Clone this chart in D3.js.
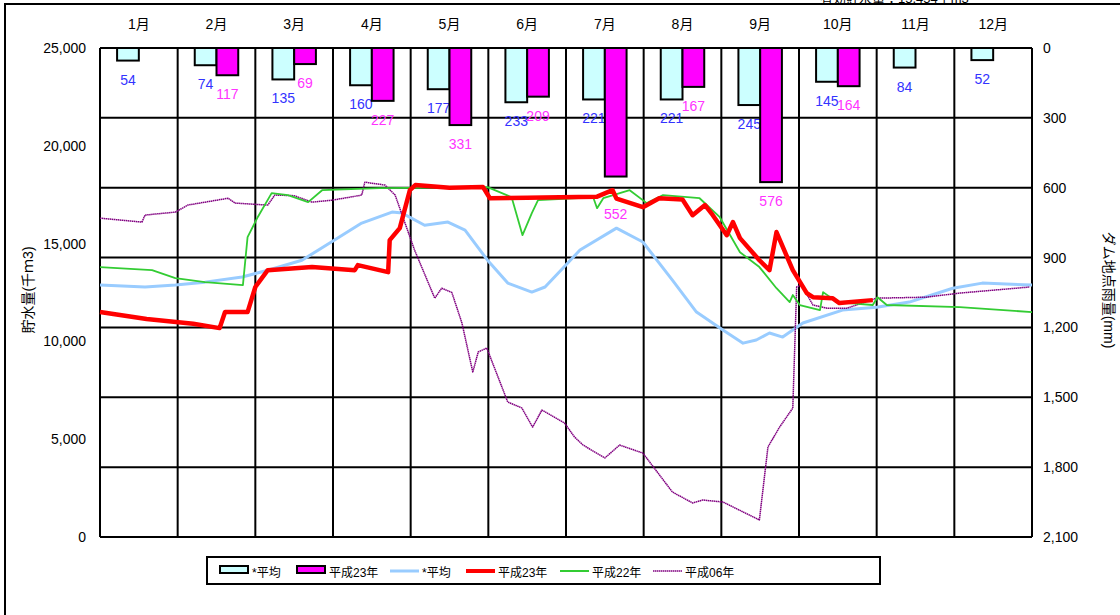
<!DOCTYPE html>
<html><head><meta charset="utf-8">
<script src="https://cdn.jsdelivr.net/npm/d3@7"></script>
<style>
body{margin:0;background:#fff;}
text{font-family:"Liberation Sans",Arial,"Noto Sans CJK JP",sans-serif;}
</style></head><body>
<script>
// months and monthly rainfall (mm)
var months = ["1月","2月","3月","4月","5月","6月","7月","8月","9月","10月","11月","12月"];
var rainAvg = [54,74,135,160,177,233,221,221,245,145,84,52];
var rain2011 = [null,117,69,227,331,209,552,167,576,164,null,null];

// storage lines: [month position, 千m3]
var storeAvg = [[0,12880],[0.58,12780],[0.97,12880],[1.35,13030],[1.83,13290],[2.16,13640],[2.6,14150],
  [3.02,15180],[3.37,16050],[3.76,16610],[3.89,16560],[4.18,15940],[4.48,16100],[4.7,15690],[4.99,14150],
  [5.25,12980],[5.56,12520],[5.73,12780],[6.02,14000],[6.18,14670],[6.65,15790],[6.99,15080],[7.37,13130],
  [7.68,11500],[8.02,10580],[8.28,9910],[8.45,10070],[8.62,10430],[8.79,10220],[9.05,10940],[9.56,11600],
  [10.0,11750],[10.42,12010],[10.98,12720],[11.36,12980],[12,12880]];
var store2011 = [[0,11500],[0.6,11150],[1.2,10900],[1.54,10680],[1.61,11500],[1.9,11500],[2.0,12780],
  [2.16,13640],[2.73,13800],[3.28,13640],[3.32,13900],[3.71,13540],[3.73,15180],[3.86,15790],[3.99,17730],
  [4.06,17990],[4.5,17850],[4.93,17900],[5.02,17320],[5.5,17350],[5.92,17370],[6.4,17400],[6.6,17730],
  [6.65,17300],[6.99,16860],[7.2,17320],[7.5,17250],[7.63,16450],[7.79,16970],[7.89,16450],[8.07,15430],
  [8.15,16100],[8.24,15280],[8.49,14150],[8.62,13640],[8.71,15590],[8.92,13640],[9.1,12470],[9.18,12260],
  [9.43,12210],[9.52,11960],[9.95,12110]];
var store2010 = [[0,13800],[0.67,13640],[0.97,13240],[1.35,13030],[1.84,12880],[1.9,15330],[2.03,16350],
  [2.21,17580],[2.42,17480],[2.68,17120],[2.86,17730],[3.6,17840],[4.99,17890],[5.3,17370],[5.44,15430],
  [5.56,16560],[5.64,17220],[6.35,17370],[6.4,16810],[6.48,17320],[6.82,17730],[7.04,17070],[7.25,17480],
  [7.72,17320],[7.98,16350],[8.24,14560],[8.49,13800],[8.71,12720],[8.88,12010],[8.92,12370],[9.01,11860],
  [9.27,11600],[9.31,12520],[9.49,12010],[9.95,11860],[10.01,12260],[10.13,11860],[11.07,11750],[12,11500]];
var store1994 = [[0,16300],[0.54,16100],[0.58,16460],[0.97,16610],[1.13,16970],[1.65,17320],[1.74,17070],
  [2.16,16970],[2.25,17480],[2.5,17450],[2.73,17120],[2.99,17220],[3.37,17480],[3.41,18140],[3.67,17990],
  [3.8,17480],[4.05,14670],[4.31,12210],[4.4,12720],[4.53,12500],[4.66,10940],[4.8,8430],[4.87,9460],
  [4.98,9660],[5.25,6900],[5.43,6600],[5.57,5620],[5.69,6490],[5.98,5830],[6.11,5110],[6.22,4700],
  [6.5,4040],[6.69,4700],[6.99,4290],[7.37,2300],[7.63,1740],[7.76,1890],[8.02,1790],[8.49,870],[8.6,4600],
  [8.75,5620],[8.92,6590],[8.97,12780],[9.03,12880],[9.18,11860],[9.36,11700],[9.62,11700],[10.0,12210],
  [10.64,12260],[11.07,12470],[11.97,12780]];

var leftTicks = [0,5000,10000,15000,20000,25000];
var rightTicks = [0,300,600,900,1200,1500,1800,2100];

var W = 1120, H = 615;
var x0 = 100, x1 = 1032, y0 = 48, y1 = 537;

var svg = d3.select("body").append("svg").attr("width", W).attr("height", H);

// outer frame (runs past the right and bottom edges)
svg.append("rect").attr("x", 5).attr("y", 4).attr("width", W + 10).attr("height", H + 10)
  .attr("fill", "none").attr("stroke", "#000").attr("stroke-width", 2);
svg.append("text").attr("x", 820).attr("y", 3).attr("font-size", 13).text("有効貯水量：15,454千m3");

var xb = d3.scaleBand().domain(months).range([x0, x1]);
var xm = d3.scaleLinear().domain([0, 12]).range([x0, x1]);
var yL = d3.scaleLinear().domain([0, 25000]).range([y1, y0]);
var yR = d3.scaleLinear().domain([0, 2100]).range([y0, y1]);

// grid
var g = svg.append("g").attr("stroke", "#000").attr("stroke-width", 2);
g.selectAll(".h").data(rightTicks).enter().append("line")
  .attr("x1", x0).attr("x2", x1).attr("y1", d => yR(d)).attr("y2", d => yR(d));
g.selectAll(".v").data(d3.range(13)).enter().append("line")
  .attr("y1", y0).attr("y2", y1).attr("x1", d => xm(d)).attr("x2", d => xm(d));

// axis labels
svg.selectAll(".lt").data(leftTicks).enter().append("text")
  .attr("x", 86).attr("y", d => yL(d) + 5).attr("text-anchor", "end").attr("font-size", 14)
  .text(d3.format(","));
svg.selectAll(".rt").data(rightTicks).enter().append("text")
  .attr("x", 1043).attr("y", d => yR(d) + 5).attr("font-size", 14)
  .text(d3.format(","));
svg.selectAll(".mt").data(months).enter().append("text")
  .attr("x", d => xb(d) + xb.bandwidth() / 2).attr("y", 29).attr("text-anchor", "middle")
  .attr("font-size", 14).text(d => d);
svg.append("text").attr("transform", "translate(33,290) rotate(-90)").attr("text-anchor", "middle")
  .attr("font-size", 14).text("貯水量(千ｍ3)");
svg.append("text").attr("transform", "translate(1104,290) rotate(90)").attr("text-anchor", "middle")
  .attr("font-size", 14).text("ダム地点雨量(mm)");

// bars
var bw = xb.bandwidth() * 0.28;
function bars(data, off, fill, lab) {
  var sel = svg.append("g").selectAll("g").data(data.map((v, i) => [months[i], v]).filter(d => d[1] != null))
    .enter().append("g");
  sel.append("rect").attr("x", d => xb(d[0]) + off).attr("y", y0).attr("width", bw)
    .attr("height", d => yR(d[1]) - y0).attr("fill", fill).attr("stroke", "#000").attr("stroke-width", 2);
  sel.append("text").attr("x", d => xb(d[0]) + off + bw / 2)
    .attr("y", d => yR(d[1]) + (d[0] == "7月" && off > bw ? 42 : 24))
    .attr("text-anchor", "middle").attr("font-size", 14).attr("fill", lab).text(d => d[1]);
}
bars(rainAvg, xb.bandwidth() * 0.22, "#ccffff", "#3333ff");
bars(rain2011, xb.bandwidth() * 0.5, "#ff00ff", "#ff33ff");

// lines
var line = d3.line().x(d => xm(d[0])).y(d => yL(d[1]));
function path(data, color, w, dash) {
  var p = svg.append("path").datum(data).attr("d", line).attr("fill", "none")
    .attr("stroke", color).attr("stroke-width", w).attr("stroke-linejoin", "round");
  if (dash) p.attr("stroke-dasharray", dash);
}
path(storeAvg, "#99ccff", 3);
path(store1994, "#800080", 1.5, "1.5,0.5");
path(store2010, "#33cc33", 1.8);
path(store2011, "#ff0000", 4.5);

// legend
var lg = svg.append("g");
lg.append("rect").attr("x", 207).attr("y", 557).attr("width", 673).attr("height", 27)
  .attr("fill", "#fff").attr("stroke", "#000").attr("stroke-width", 2);
var items = [
  {t: "*平均", x: 220, type: "bar", c: "#ccffff"},
  {t: "平成23年", x: 297, type: "bar", c: "#ff00ff"},
  {t: "*平均", x: 390, type: "line", c: "#99ccff", w: 3},
  {t: "平成23年", x: 466, type: "line", c: "#ff0000", w: 4},
  {t: "平成22年", x: 560, type: "line", c: "#33cc33", w: 2},
  {t: "平成06年", x: 653, type: "line", c: "#800080", w: 1.5, dash: "1.5,0.5"}
];
items.forEach(function(d) {
  if (d.type == "bar") {
    lg.append("rect").attr("x", d.x).attr("y", 566).attr("width", 28).attr("height", 7)
      .attr("fill", d.c).attr("stroke", "#000").attr("stroke-width", 2);
  } else {
    lg.append("line").attr("x1", d.x).attr("x2", d.x + 29).attr("y1", 571).attr("y2", 571)
      .attr("stroke", d.c).attr("stroke-width", d.w).attr("stroke-dasharray", d.dash || null);
  }
  lg.append("text").attr("x", d.x + 32).attr("y", 577).attr("font-size", 12).text(d.t);
});
</script>
</body></html>
